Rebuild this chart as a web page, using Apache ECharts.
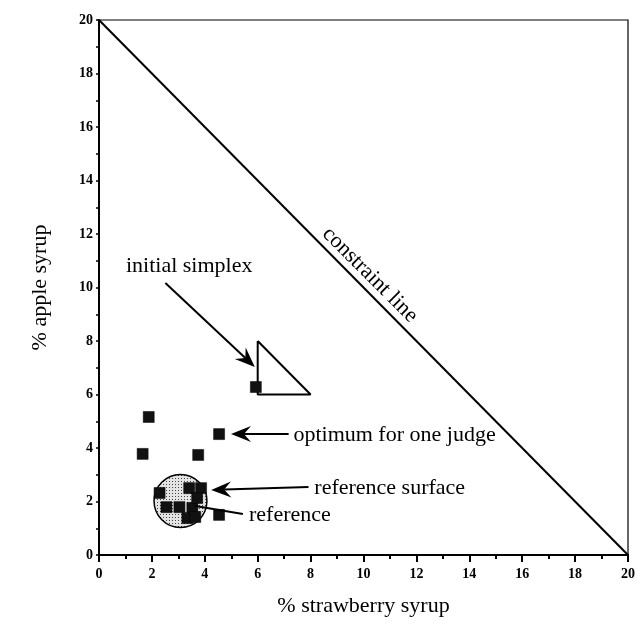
<!DOCTYPE html>
<html><head><meta charset="utf-8">
<script src="https://cdn.jsdelivr.net/npm/echarts@6/dist/echarts.min.js"></script>
<style>html,body{margin:0;padding:0;background:#fff}#c{width:638px;height:628px}</style>
</head><body><div id="c"></div><script>
// ---- data ----
const xAxisTitle = '% strawberry syrup';
const yAxisTitle = '% apple syrup';
const judgeX = [5.93, 1.88, 1.65, 3.75, 4.54, 4.54];
const judgeY = [6.28, 5.16, 3.78, 3.74, 4.52, 1.50];
const clusterX = [2.29, 2.55, 3.04, 3.53, 3.41, 3.86, 3.71, 3.34, 3.64];
const clusterY = [2.32, 1.79, 1.79, 1.76, 2.50, 2.50, 2.13, 1.38, 1.42];
const constraintX = [0, 20];
const constraintY = [20, 0];
const simplexX = [6, 6, 8, 6];
const simplexY = [8, 6, 6, 8];
const surfaceX = [3.08];
const surfaceY = [2.02];
const surfaceR = [1.0];
const annTexts = ['initial simplex', 'optimum for one judge', 'reference surface', 'reference', 'constraint line'];
const annX = [3.41, 7.35, 8.14, 5.67, 10.24];
const annY = [10.8, 4.49, 2.5, 1.5, 10.47];
const arrowFromX = [2.51, 7.17, 7.92, 5.44];
const arrowFromY = [10.17, 4.52, 2.54, 1.53];
const arrowToX = [5.89, 4.99, 4.24, 3.64];
const arrowToY = [7.03, 4.52, 2.43, 1.83];
const arrowHead = [1, 1, 1, 0];

// ---- build ----
const pc = document.createElement('canvas');
pc.width = 3; pc.height = 3;
const pctx = pc.getContext('2d');
pctx.fillStyle = '#e4e4e4'; pctx.fillRect(0, 0, 3, 3);
pctx.fillStyle = '#444'; pctx.fillRect(1, 1, 1, 1);
const pattern = { image: pc, repeat: 'repeat' };

const serif = '"Liberation Serif", "Times New Roman", serif';
const zip = (a, b) => a.map((v, i) => [v, b[i]]);

const chart = echarts.init(document.getElementById('c'));
chart.setOption({
  animation: false,
  backgroundColor: '#fff',
  grid: { left: 99, right: 3, top: 20, bottom: 73, show: true, borderColor: '#000', borderWidth: 1.2, containLabel: false },
  xAxis: {
    type: 'value', min: 0, max: 20, interval: 2,
    name: xAxisTitle, nameLocation: 'middle', nameGap: 40,
    nameTextStyle: { fontFamily: serif, fontSize: 22, color: '#000' },
    axisLine: { show: true, onZero: false, lineStyle: { color: '#000', width: 2 } },
    axisTick: { show: true, length: 7, lineStyle: { color: '#000', width: 2 } },
    minorTick: { show: true, splitNumber: 2, length: 4, lineStyle: { color: '#000', width: 2 } },
    splitLine: { show: false },
    axisLabel: { margin: 12, fontFamily: serif, fontWeight: 'bold', fontSize: 14, color: '#000' }
  },
  yAxis: {
    type: 'value', min: 0, max: 20, interval: 2,
    name: yAxisTitle, nameLocation: 'middle', nameGap: 48,
    nameTextStyle: { fontFamily: serif, fontSize: 22, color: '#000' },
    axisLine: { show: true, onZero: false, lineStyle: { color: '#000', width: 2 } },
    axisTick: { show: true, length: 3, lineStyle: { color: '#000', width: 1.5 } },
    minorTick: { show: true, splitNumber: 2, length: 3, lineStyle: { color: '#000', width: 1.5 } },
    splitLine: { show: false },
    axisLabel: { margin: 6, fontFamily: serif, fontWeight: 'bold', fontSize: 14, color: '#000' }
  },
  series: [
    {
      type: 'line', data: zip(constraintX, constraintY), symbol: 'none',
      lineStyle: { color: '#000', width: 2 }, z: 2
    },
    {
      type: 'line', data: zip(simplexX, simplexY), symbol: 'none',
      lineStyle: { color: '#000', width: 2 }, z: 2
    },
    {
      type: 'custom', z: 3,
      data: surfaceX.map((v, i) => [v, surfaceY[i], surfaceR[i]]),
      renderItem: (params, api) => {
        const c = api.coord([api.value(0), api.value(1)]);
        const r = api.size([api.value(2), 0])[0];
        return { type: 'circle', shape: { cx: c[0], cy: c[1], r: r },
          style: { fill: pattern, stroke: '#000', lineWidth: 1.5 } };
      }
    },
    {
      type: 'scatter', z: 5, data: zip(clusterX, clusterY), symbol: 'rect', symbolSize: 11,
      itemStyle: { color: '#111', borderColor: '#000', borderWidth: 0.5, opacity: 1 }
    },
    {
      type: 'scatter', z: 5, data: zip(judgeX, judgeY), symbol: 'rect', symbolSize: 11,
      itemStyle: { color: '#111', borderColor: '#000', borderWidth: 0.5, opacity: 1 }
    },
    {
      type: 'custom', z: 6,
      data: arrowFromX.map((v, i) => [v, arrowFromY[i], arrowToX[i], arrowToY[i], arrowHead[i]]),
      renderItem: (params, api) => {
        const a = api.coord([api.value(0), api.value(1)]);
        const b = api.coord([api.value(2), api.value(3)]);
        const children = [];
        const dx = b[0] - a[0], dy = b[1] - a[1];
        const len = Math.hypot(dx, dy);
        const ux = dx / len, uy = dy / len;
        const nx = -uy, ny = ux;
        const hasHead = api.value(4) === 1;
        const L = 20, W = 8, notch = 13;
        const endLine = hasHead ? [b[0] - ux * notch, b[1] - uy * notch] : b;
        children.push({ type: 'line', shape: { x1: a[0], y1: a[1], x2: endLine[0], y2: endLine[1] },
          style: { stroke: '#000', lineWidth: 2 } });
        if (hasHead) {
          const bx = b[0] - ux * L, by = b[1] - uy * L;
          children.push({ type: 'polygon', shape: { points: [
            [b[0], b[1]],
            [bx + nx * W, by + ny * W],
            [b[0] - ux * notch, b[1] - uy * notch],
            [bx - nx * W, by - ny * W]
          ] }, style: { fill: '#000' } });
        }
        return { type: 'group', children };
      }
    },
    {
      type: 'custom', z: 7,
      data: annX.map((v, i) => [v, annY[i], i]),
      renderItem: (params, api) => {
        const i = api.value(2);
        const p = api.coord([api.value(0), api.value(1)]);
        const isConstraint = i === 4;
        const centered = i === 0 || isConstraint;
        return {
          type: 'text', x: p[0], y: p[1], rotation: isConstraint ? -Math.PI / 4 : 0,
          style: { text: annTexts[i], font: '22px ' + serif, fill: '#000',
            align: centered ? 'center' : 'left', verticalAlign: 'middle' }
        };
      }
    }
  ]
});
</script></body></html>
